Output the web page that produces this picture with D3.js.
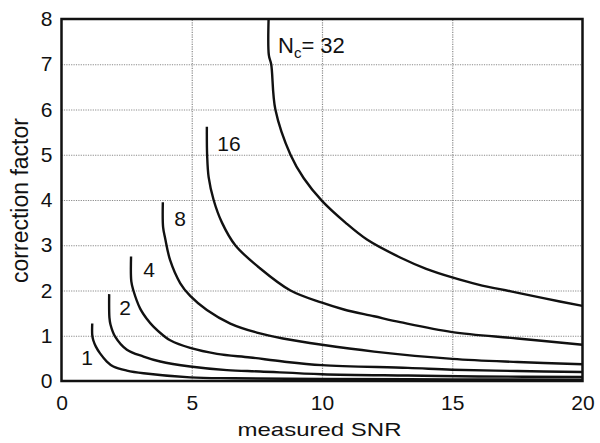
<!DOCTYPE html>
<html>
<head>
<meta charset="utf-8">
<script src="https://cdn.jsdelivr.net/npm/d3@7.9.0/dist/d3.min.js"></script>
<style>
  body { margin: 0; background: #fff; }
  svg text { font-family: "Liberation Sans", Arial, sans-serif; fill: #111; }
  .grid line { stroke: #8a8a8a; stroke-width: 1.2; stroke-dasharray: 1.2,1.2; }
  .grid path { display: none; }
  .ticks path, .ticks line { display: none; }
</style>
</head>
<body>
<svg id="chart" width="600" height="443"></svg>
<script>
// curves, one pair of arrays per coil count
const nc1x = [1.18, 1.18, 1.22, 1.32, 1.48, 1.74, 1.99, 2.51, 3.15, 4.94, 6.6, 10, 15, 20];
const nc1y = [1.27, 1.02, 0.9, 0.76, 0.61, 0.43, 0.32, 0.23, 0.17, 0.08, 0.06, 0.045, 0.035, 0.03];

const nc2x = [1.83, 1.84, 1.88, 2.06, 2.51, 3.15, 3.79, 4.94, 6.35, 7.63, 10, 13.3, 16, 20];
const nc2y = [1.92, 1.4, 1.25, 0.98, 0.69, 0.54, 0.43, 0.32, 0.24, 0.21, 0.15, 0.12, 0.1, 0.09];

const nc4x = [2.67, 2.68, 2.76, 3.02, 3.28, 3.53, 3.92, 4.17, 4.94, 5.97, 7.25, 8.5, 10, 13.3, 15, 17.5, 20];
const nc4y = [2.75, 2.2, 2.0, 1.6, 1.37, 1.2, 1.0, 0.9, 0.73, 0.6, 0.52, 0.43, 0.35, 0.29, 0.25, 0.22, 0.2];

const nc8x = [3.89, 3.9, 3.98, 4.17, 4.56, 4.94, 5.58, 6.48, 7.5, 8.5, 10, 12, 15, 17.5, 20];
const nc8y = [3.95, 3.4, 3.15, 2.67, 2.16, 1.88, 1.57, 1.27, 1.07, 0.94, 0.8, 0.65, 0.49, 0.42, 0.37];

const nc16x = [5.58, 5.59, 5.65, 5.84, 6.16, 6.67, 7.6, 8.79, 10, 10.84, 12, 13, 15, 17.5, 20];
const nc16y = [5.62, 5.0, 4.5, 4.0, 3.5, 3.0, 2.5, 2.0, 1.73, 1.58, 1.43, 1.3, 1.08, 0.94, 0.8];

const nc32x = [7.95, 7.96, 8.05, 8.21, 8.79, 9.3, 10, 10.9, 11.74, 13.0, 14.0, 15.0, 16.0, 17.25, 18.5, 20];
const nc32y = [8.0, 7.2, 7.0, 6.0, 5.0, 4.48, 3.98, 3.5, 3.12, 2.73, 2.48, 2.29, 2.13, 1.98, 1.83, 1.66];

const xTicks = [0, 5, 10, 15, 20];
const yTicks = [0, 1, 2, 3, 4, 5, 6, 7, 8];

const svg = d3.select('#chart');
const plotLeft = 61.5, plotRight = 582.5, plotTop = 19, plotBottom = 381;

const x = d3.scaleLinear().domain([0, 20]).range([plotLeft, plotRight]);
const y = d3.scaleLinear().domain([0, 8]).range([plotBottom, plotTop]);

// dotted grid
svg.append('g')
    .attr('class', 'grid')
    .attr('transform', `translate(0,${plotBottom})`)
    .call(d3.axisBottom(x).tickValues([5, 10, 15]).tickSize(-(plotBottom - plotTop)).tickFormat(''));
svg.append('g')
    .attr('class', 'grid')
    .attr('transform', `translate(${plotLeft},0)`)
    .call(d3.axisLeft(y).tickValues([1, 2, 3, 4, 5, 6, 7]).tickSize(-(plotRight - plotLeft)).tickFormat(''));

// tick labels
svg.append('g')
    .attr('class', 'ticks')
    .attr('transform', `translate(0,${plotBottom})`)
    .call(d3.axisBottom(x).tickValues(xTicks).tickSize(0).tickPadding(14))
    .selectAll('text').style('font-size', '21px');
svg.append('g')
    .attr('class', 'ticks')
    .attr('transform', `translate(${plotLeft},0)`)
    .call(d3.axisLeft(y).tickValues(yTicks).tickSize(0).tickPadding(9))
    .selectAll('text').style('font-size', '21px');

// curves
const line = d3.line()
    .x(d => x(d[0]))
    .y(d => y(d[1]))
    .curve(d3.curveCatmullRom.alpha(0.5));

const curves = [
    [nc1x, nc1y], [nc2x, nc2y], [nc4x, nc4y],
    [nc8x, nc8y], [nc16x, nc16y], [nc32x, nc32y]
];
curves.forEach(([xs, ys]) => {
    svg.append('path')
        .datum(xs.map((v, i) => [v, ys[i]]))
        .attr('d', line)
        .attr('fill', 'none')
        .attr('stroke', '#111')
        .attr('stroke-width', 2.4);
});

// frame
svg.append('rect')
    .attr('x', plotLeft).attr('y', plotTop)
    .attr('width', plotRight - plotLeft).attr('height', plotBottom - plotTop)
    .attr('fill', 'none')
    .attr('stroke', '#111')
    .attr('stroke-width', 2.5);

// curve labels
const labels = [['1', 87, 365], ['2', 125, 315], ['4', 149, 277], ['8', 180, 226], ['16', 229, 151]];
labels.forEach(([t, lx, ly]) => {
    svg.append('text')
        .attr('x', lx).attr('y', ly)
        .attr('text-anchor', 'middle')
        .style('font-size', '21px')
        .text(t);
});

const nc = svg.append('text')
    .attr('x', 278).attr('y', 53)
    .style('font-size', '22px');
nc.append('tspan').text('N');
nc.append('tspan').attr('dy', 5).style('font-size', '15px').text('c');
nc.append('tspan').attr('dy', -5).text('= 32');

// axis titles
svg.append('text')
    .attr('x', 319.5).attr('y', 436)
    .attr('text-anchor', 'middle')
    .attr('textLength', 164)
    .attr('lengthAdjust', 'spacingAndGlyphs')
    .style('font-size', '19px')
    .text('measured SNR');

svg.append('text')
    .attr('transform', 'translate(28,200.5) rotate(-90)')
    .attr('text-anchor', 'middle')
    .style('font-size', '23px')
    .text('correction factor');
</script>
</body>
</html>
